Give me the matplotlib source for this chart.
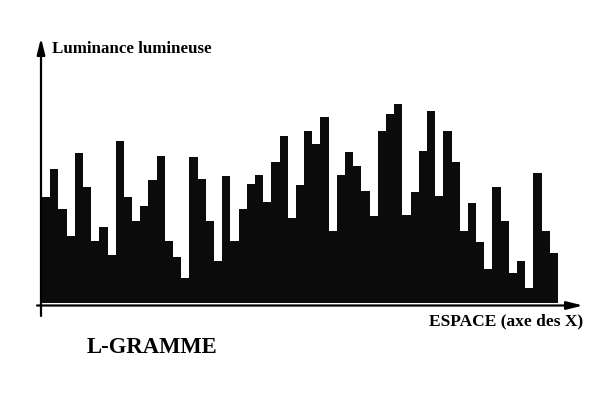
import matplotlib
matplotlib.use("Agg")
import matplotlib.pyplot as plt
import numpy as np

# Luminance values (arbitrary units) for each spatial position
positions = list(range(1, 64))
luminance = [106, 134, 94, 67, 150, 116, 62, 76, 48, 162,
             106, 82, 97, 123, 147, 62, 46, 25, 146, 124,
             82, 42, 127, 62, 94, 119, 128, 101, 141, 167,
             85, 118, 172, 159, 186, 72, 128, 151, 137, 112,
             87, 172, 189, 199, 88, 111, 152, 192, 107, 172,
             141, 72, 100, 61, 34, 116, 82, 30, 42, 15,
             130, 72, 50]

ylabel = "Luminance lumineuse"
xlabel = "ESPACE (axe des X)"
title = "L-GRAMME"

W, H = 600, 400
fig = plt.figure(figsize=(6, 4), dpi=100)
fig.patch.set_facecolor("white")

# axes placed so that the bars occupy x 42..558 px, baseline at y=302.5 px
x0, x1 = 42, 558
base = 302.5
top = 102.5
ax = fig.add_axes([x0 / W, (H - base) / H, (x1 - x0) / W, (base - top) / H])
ax.bar(positions, luminance, width=1.0, color="#0b0b0b", edgecolor="none", align="center")
ax.set_xlim(0.5, 63.5)
ax.set_ylim(0, 200)
ax.axis("off")

serif = ["Liberation Serif", "DejaVu Serif"]

# axis arrows (figure pixels, origin bottom-left)
arrow_kw = dict(arrowstyle="-|>,head_length=0.8,head_width=0.2", color="black",
                lw=1.6, shrinkA=0, shrinkB=0, mutation_scale=12)
ax.annotate("", xy=(41, H - 38), xytext=(41, H - 316),
            xycoords="figure pixels", textcoords="figure pixels", arrowprops=arrow_kw)
ax.annotate("", xy=(583, H - 305.5), xytext=(37, H - 305.5),
            xycoords="figure pixels", textcoords="figure pixels", arrowprops=arrow_kw)

fig.text(52 / W, (H - 53.3) / H, ylabel, family=serif, weight="bold",
         fontsize=12.2, ha="left", va="baseline")
fig.text(429 / W, (H - 325.7) / H, xlabel, family=serif, weight="bold",
         fontsize=12.5, ha="left", va="baseline")
fig.text(87 / W, (H - 353.3) / H, title, family=serif, weight="bold",
         fontsize=16.3, ha="left", va="baseline")

fig.savefig("out.png", dpi=100, facecolor="white")
